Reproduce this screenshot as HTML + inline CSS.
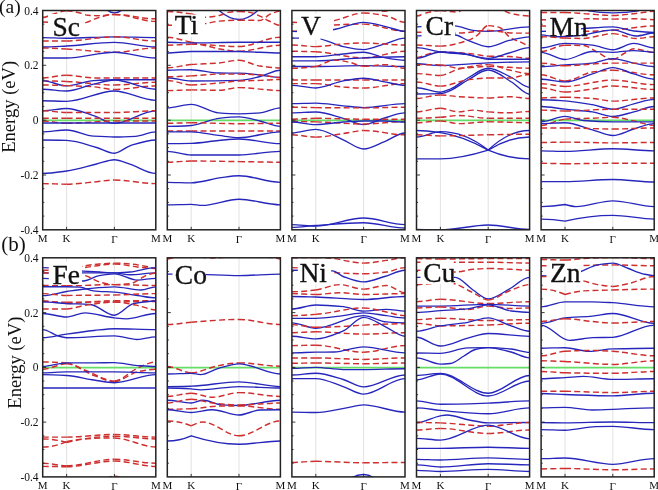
<!DOCTYPE html><html><head><meta charset="utf-8"><style>html,body{margin:0;padding:0;background:#fff;width:658px;height:490px;overflow:hidden}svg{display:block;will-change:transform;filter:blur(0.3px)}text{font-family:"Liberation Serif",serif;fill:#111}.b{stroke:#2626bc;stroke-width:1.35;fill:none}.r{stroke:#cf2e2e;stroke-width:1.45;fill:none;stroke-dasharray:6 3.3}</style></head><body>
<svg width="658" height="490" viewBox="0 0 658 490">
<defs>
<clipPath id="c00"><rect x="42.7" y="10.5" width="113.1" height="219.3"/></clipPath>
<clipPath id="c01"><rect x="167.3" y="10.5" width="113.1" height="219.3"/></clipPath>
<clipPath id="c02"><rect x="291.9" y="10.5" width="113.1" height="219.3"/></clipPath>
<clipPath id="c03"><rect x="416.5" y="10.5" width="113.1" height="219.3"/></clipPath>
<clipPath id="c04"><rect x="541.1" y="10.5" width="113.1" height="219.3"/></clipPath>
<clipPath id="c10"><rect x="42.7" y="257.8" width="113.1" height="219.1"/></clipPath>
<clipPath id="c11"><rect x="167.3" y="257.8" width="113.1" height="219.1"/></clipPath>
<clipPath id="c12"><rect x="291.9" y="257.8" width="113.1" height="219.1"/></clipPath>
<clipPath id="c13"><rect x="416.5" y="257.8" width="113.1" height="219.1"/></clipPath>
<clipPath id="c14"><rect x="541.1" y="257.8" width="113.1" height="219.1"/></clipPath>
</defs>
<path d="M66.6,10.5V229.8M114.4,10.5V229.8" stroke="#dadada" stroke-width="0.8" fill="none"/>
<g clip-path="url(#c00)"><path d="M42.7,120.4H155.8" stroke="#66dd66" stroke-width="1.8"/><path d="M99.2,2.0C104.3,9.1 109.4,12.8 114.4,12.8C119.5,12.8 124.7,9.3 129.8,2.0" class="b"/><path d="M42.7,17.5C46.5,17.5 50.2,14.9 54.0,13.9C58.2,12.7 62.4,10.8 66.6,10.8" class="r"/><path d="M66.6,10.8C71.1,10.8 75.5,12.0 80.0,13.0C82.7,13.6 85.3,15.1 87.9,15.3C91.0,15.5 94.0,15.7 97.0,15.7C102.8,15.7 108.6,14.5 114.4,14.5" class="r"/><path d="M114.4,14.5C128.2,14.5 142.0,18.8 155.8,18.8" class="r"/><path d="M42.7,22.0C50.7,22.0 58.6,23.5 66.6,23.5" class="r"/><path d="M66.6,23.5C73.0,23.5 79.3,23.2 85.7,22.6C88.7,22.3 91.7,19.8 94.7,18.9C101.3,16.9 107.8,14.5 114.4,14.5" class="r"/><path d="M114.4,14.5C128.2,14.5 142.0,21.4 155.8,21.4" class="r"/><path d="M42.7,37.6C50.7,37.6 58.6,38.2 66.6,38.2C82.5,38.2 98.5,36.8 114.4,36.8C128.2,36.8 142.0,37.6 155.8,37.6" class="b"/><path d="M42.7,41.0C50.7,41.0 58.6,41.0 66.6,41.0" class="r"/><path d="M66.6,41.0C82.5,41.0 98.5,36.8 114.4,36.8" class="r"/><path d="M114.4,36.8C128.2,36.8 142.0,41.0 155.8,41.0" class="r"/><path d="M42.7,47.0C50.7,47.0 58.6,46.4 66.6,46.0C82.5,45.2 98.5,42.3 114.4,42.3C128.2,42.3 142.0,47.0 155.8,47.0" class="b"/><path d="M42.7,48.0C50.7,48.0 58.6,48.6 66.6,49.0" class="r"/><path d="M66.6,49.0C82.5,49.8 98.5,52.2 114.4,52.2" class="r"/><path d="M114.4,52.2C128.2,52.2 142.0,48.0 155.8,48.0" class="r"/><path d="M42.7,58.0C50.7,58.0 58.6,58.0 66.6,58.0C82.5,58.0 98.5,52.2 114.4,52.2C128.2,52.2 142.0,58.0 155.8,58.0" class="b"/><path d="M42.7,77.9C50.7,77.9 58.6,75.2 66.6,75.2" class="r"/><path d="M66.6,75.2C75.6,75.2 84.6,77.9 93.6,77.9C100.5,77.9 107.5,77.9 114.4,77.9" class="r"/><path d="M114.4,77.9C128.2,77.9 142.0,77.9 155.8,77.9" class="r"/><path d="M42.7,80.9C50.7,80.9 58.6,81.2 66.6,81.5" class="r"/><path d="M66.6,81.5C82.5,82.1 98.5,85.0 114.4,85.0" class="r"/><path d="M114.4,85.0C128.2,85.0 142.0,82.3 155.8,82.3" class="r"/><path d="M42.7,80.6C50.7,80.6 58.6,85.9 66.6,85.9C75.6,85.9 84.6,81.2 93.6,80.6C100.5,80.1 107.5,79.7 114.4,79.7C128.2,79.7 142.0,79.7 155.8,79.7" class="b"/><path d="M42.7,85.0C50.7,85.0 58.6,85.3 66.6,85.6" class="r"/><path d="M66.6,85.6C75.6,85.9 84.6,86.2 93.6,86.8C100.5,87.3 107.5,89.5 114.4,89.5" class="r"/><path d="M114.4,89.5C128.2,89.5 142.0,85.9 155.8,85.9" class="r"/><path d="M42.7,89.2C50.7,89.2 58.6,91.0 66.6,91.0C75.6,91.0 84.6,86.1 93.6,84.1C100.5,82.6 107.5,80.0 114.4,80.0C128.2,80.0 142.0,89.2 155.8,89.2" class="b"/><path d="M42.7,100.7C50.7,100.7 58.6,101.3 66.6,101.3C82.5,101.3 98.5,91.0 114.4,91.0C128.2,91.0 142.0,100.4 155.8,100.4" class="b"/><path d="M42.7,110.8C50.7,110.8 58.6,108.5 66.6,108.5C75.6,108.5 84.6,112.8 93.6,115.6C100.5,117.7 107.5,123.3 114.4,123.3C128.2,123.3 142.0,110.8 155.8,110.8" class="b"/><path d="M42.7,110.8C50.7,110.8 58.6,112.5 66.6,112.5" class="r"/><path d="M66.6,112.5C82.5,112.5 98.5,112.5 114.4,112.5" class="r"/><path d="M114.4,112.5C128.2,112.5 142.0,110.8 155.8,110.8" class="r"/><path d="M42.7,118.3C50.7,118.3 58.6,118.3 66.6,118.3" class="r"/><path d="M66.6,118.3C82.5,118.3 98.5,118.3 114.4,118.3" class="r"/><path d="M114.4,118.3C128.2,118.3 142.0,118.3 155.8,118.3" class="r"/><path d="M42.7,121.0C50.7,121.0 58.6,123.3 66.6,123.3" class="r"/><path d="M66.6,123.3C82.5,123.3 98.5,121.0 114.4,121.0" class="r"/><path d="M114.4,121.0C128.2,121.0 142.0,121.0 155.8,121.0" class="r"/><path d="M42.7,123.0C50.7,123.0 58.6,123.0 66.6,123.0C82.5,123.0 98.5,123.0 114.4,123.0C128.2,123.0 142.0,123.0 155.8,123.0" class="b"/><path d="M42.7,131.8C50.7,131.8 58.6,130.0 66.6,130.0C75.6,130.0 84.6,135.6 93.6,136.2C100.5,136.6 107.5,137.0 114.4,137.0C121.4,137.0 128.4,136.7 135.4,136.3C142.2,135.9 149.0,131.8 155.8,131.8" class="b"/><path d="M42.7,140.0C50.7,140.0 58.6,140.2 66.6,140.4C76.6,140.7 86.6,144.7 96.6,147.5C102.6,149.1 108.5,153.2 114.4,153.2C119.8,153.2 125.1,147.3 130.5,145.6C138.9,143.0 147.4,140.0 155.8,140.0" class="b"/><path d="M42.7,173.4C50.7,173.4 58.6,172.1 66.6,171.0C76.6,169.6 86.6,166.4 96.6,164.0C102.6,162.6 108.5,159.7 114.4,159.7C119.8,159.7 125.1,162.7 130.5,164.4C138.9,167.1 147.4,173.4 155.8,173.4" class="b"/><path d="M42.7,183.6C50.7,183.6 58.6,184.2 66.6,184.2" class="r"/><path d="M66.6,184.2C76.6,184.2 86.6,182.6 96.6,181.7C102.6,181.2 108.5,180.0 114.4,180.0" class="r"/><path d="M114.4,180.0C128.2,180.0 142.0,183.6 155.8,183.6" class="r"/><rect x="48.0" y="14.0" width="37.0" height="22.5" fill="#fff"/></g>
<path d="M42.7,24.2h1.6M42.7,37.9h1.6M42.7,51.6h1.6M42.7,65.3h3.5M42.7,79.0h1.6M42.7,92.7h1.6M42.7,106.4h1.6M42.7,120.2h3.5M42.7,133.9h1.6M42.7,147.6h1.6M42.7,161.3h1.6M42.7,175.0h3.5M42.7,188.7h1.6M42.7,202.4h1.6M42.7,216.1h1.6M66.6,229.8v-3M114.4,229.8v-3" stroke="#222" stroke-width="0.9" fill="none"/>
<rect x="42.7" y="10.5" width="113.1" height="219.3" fill="none" stroke="#222" stroke-width="1.5"/>
<text x="42.7" y="242.3" font-size="11" text-anchor="middle">M</text>
<text x="66.6" y="242.3" font-size="11" text-anchor="middle">K</text>
<text x="114.4" y="243.3" font-size="11" text-anchor="middle">Γ</text>
<text x="155.8" y="242.3" font-size="11" text-anchor="middle">M</text>
<text x="52.4" y="35.9" font-size="27.5" stroke="#111" stroke-width="0.35">Sc</text>
<path d="M191.2,10.5V229.8M239.0,10.5V229.8" stroke="#dadada" stroke-width="0.8" fill="none"/>
<g clip-path="url(#c01)"><path d="M167.3,120.4H280.4" stroke="#66dd66" stroke-width="1.8"/><path d="M212.5,-5.0C214.7,1.2 216.8,8.7 219.0,10.5C225.7,16.2 232.3,19.5 239.0,19.5C245.3,19.5 251.5,16.0 257.8,10.5C260.0,8.5 262.3,1.3 264.6,-5.0" class="b"/><path d="M167.3,11.5C175.3,11.5 183.2,12.8 191.2,14.0" class="r"/><path d="M191.2,14.0C195.7,14.7 200.1,17.3 204.6,17.3C209.5,17.3 214.4,16.4 219.3,15.5C222.3,14.9 225.4,12.8 228.4,12.4C231.9,11.9 235.5,11.5 239.0,11.5" class="r"/><path d="M239.0,11.5C242.6,11.5 246.2,11.9 249.9,12.4C253.3,12.9 256.6,14.6 260.0,16.1C263.1,17.4 266.1,19.6 269.1,21.0C272.9,22.7 276.6,25.4 280.4,25.4" class="r"/><path d="M167.3,25.3C175.3,25.3 183.2,24.9 191.2,24.5" class="r"/><path d="M191.2,24.5C195.7,24.3 200.1,24.0 204.6,23.6C209.5,23.1 214.4,21.5 219.3,21.1C225.9,20.6 232.4,20.2 239.0,20.2" class="r"/><path d="M239.0,20.2C242.6,20.2 246.2,20.2 249.9,20.2C253.3,20.2 256.6,20.5 260.0,20.5C263.4,20.5 266.8,15.6 270.2,14.2C273.6,12.8 277.0,11.1 280.4,11.1" class="r"/><path d="M167.3,37.2C175.3,37.2 183.2,40.7 191.2,42.3" class="r"/><path d="M191.2,42.3C207.1,45.5 223.1,51.2 239.0,51.2" class="r"/><path d="M239.0,51.2C252.8,51.2 266.6,45.2 280.4,45.2" class="r"/><path d="M167.3,45.2C175.3,45.2 183.2,44.3 191.2,44.3" class="r"/><path d="M191.2,44.3C207.1,44.3 223.1,46.5 239.0,46.5" class="r"/><path d="M239.0,46.5C252.8,46.5 266.6,37.2 280.4,37.2" class="r"/><path d="M167.3,42.2C175.3,42.2 183.2,42.9 191.2,42.9C207.1,42.9 223.1,42.2 239.0,42.2C252.8,42.2 266.6,42.2 280.4,42.2" class="b"/><path d="M167.3,53.0C175.3,53.0 183.2,51.5 191.2,51.5C207.1,51.5 223.1,51.5 239.0,51.5C252.8,51.5 266.6,53.0 280.4,53.0" class="b"/><path d="M167.3,67.8C175.3,67.8 183.2,65.1 191.2,64.5" class="r"/><path d="M191.2,64.5C200.3,63.8 209.5,63.7 218.6,63.0C225.4,62.5 232.2,60.3 239.0,60.3" class="r"/><path d="M239.0,60.3C246.0,60.3 253.0,65.0 260.0,66.0C266.8,66.9 273.6,67.9 280.4,67.9" class="r"/><path d="M167.3,70.2C175.3,70.2 183.2,69.7 191.2,69.7C200.3,69.7 209.5,72.8 218.6,73.0C225.4,73.1 232.2,73.1 239.0,73.2C246.0,73.3 253.0,74.3 260.0,75.0C266.8,75.7 273.6,77.4 280.4,77.4" class="b"/><path d="M167.3,77.7C175.3,77.7 183.2,81.0 191.2,81.0C207.1,81.0 223.1,80.8 239.0,80.4C246.0,80.2 253.0,78.1 260.0,76.5C266.8,74.9 273.6,70.2 280.4,70.2" class="b"/><path d="M167.3,76.8C175.3,76.8 183.2,76.3 191.2,75.9" class="r"/><path d="M191.2,75.9C200.3,75.5 209.5,74.1 218.6,74.1C225.4,74.1 232.2,74.1 239.0,74.1" class="r"/><path d="M239.0,74.1C246.0,74.1 253.0,74.6 260.0,75.0C266.8,75.4 273.6,77.4 280.4,77.4" class="r"/><path d="M167.3,80.4C175.3,80.4 183.2,84.9 191.2,84.9" class="r"/><path d="M191.2,84.9C200.3,84.9 209.5,83.8 218.6,83.1C225.4,82.5 232.2,81.3 239.0,81.0" class="r"/><path d="M239.0,81.0C246.0,80.7 253.0,80.6 260.0,80.4C266.8,80.2 273.6,79.5 280.4,79.5" class="r"/><path d="M167.3,90.6C175.3,90.6 183.2,89.9 191.2,89.9" class="r"/><path d="M191.2,89.9C200.3,89.9 209.5,90.3 218.6,90.3C225.4,90.3 232.2,87.6 239.0,87.6" class="r"/><path d="M239.0,87.6C252.8,87.6 266.6,90.6 280.4,90.6" class="r"/><path d="M167.3,107.9C175.3,107.9 183.2,104.3 191.2,104.3C200.3,104.3 209.5,112.2 218.6,112.9C225.4,113.4 232.2,113.8 239.0,113.8C246.0,113.8 253.0,113.4 260.0,112.9C266.8,112.4 273.6,107.9 280.4,107.9" class="b"/><path d="M167.3,126.4C175.3,126.4 183.2,126.0 191.2,125.5C200.3,124.9 209.5,119.3 218.6,118.3C225.4,117.6 232.2,116.9 239.0,116.9C246.0,116.9 253.0,119.4 260.0,121.0C266.8,122.5 273.6,126.4 280.4,126.4" class="b"/><path d="M167.3,123.3C175.3,123.3 183.2,122.8 191.2,122.8" class="r"/><path d="M191.2,122.8C207.1,122.8 223.1,123.7 239.0,123.7" class="r"/><path d="M239.0,123.7C252.8,123.7 266.6,123.3 280.4,123.3" class="r"/><path d="M167.3,130.9C175.3,130.9 183.2,130.9 191.2,130.9" class="r"/><path d="M191.2,130.9C207.1,130.9 223.1,130.9 239.0,130.9" class="r"/><path d="M239.0,130.9C252.8,130.9 266.6,130.9 280.4,130.9" class="r"/><path d="M167.3,131.8C175.3,131.8 183.2,131.8 191.2,131.8C200.3,131.8 209.5,134.3 218.6,135.4C225.4,136.2 232.2,137.7 239.0,137.7C252.8,137.7 266.6,131.8 280.4,131.8" class="b"/><path d="M167.3,143.6C175.3,143.6 183.2,143.5 191.2,143.3C200.3,143.1 209.5,141.3 218.6,140.5C225.4,139.9 232.2,139.0 239.0,139.0C252.8,139.0 266.6,143.6 280.4,143.6" class="b"/><path d="M167.3,151.3C175.3,151.3 183.2,155.0 191.2,155.0C207.1,155.0 223.1,155.0 239.0,155.0C252.8,155.0 266.6,151.3 280.4,151.3" class="b"/><path d="M167.3,162.2C175.3,162.2 183.2,161.0 191.2,161.0" class="r"/><path d="M191.2,161.0C207.1,161.0 223.1,161.4 239.0,161.6" class="r"/><path d="M239.0,161.6C252.8,161.8 266.6,162.2 280.4,162.2" class="r"/><path d="M167.3,182.3C175.3,182.3 183.2,182.8 191.2,182.8C201.3,182.8 211.3,178.9 221.4,177.6C227.2,176.8 233.1,175.7 239.0,175.7C252.8,175.7 266.6,182.3 280.4,182.3" class="b"/><path d="M167.3,204.8C175.3,204.8 183.2,204.3 191.2,204.3C194.9,204.3 198.6,205.4 202.4,205.4C214.6,205.4 226.8,199.2 239.0,199.2C252.8,199.2 266.6,204.8 280.4,204.8" class="b"/><rect x="172.0" y="14.5" width="33.0" height="22.5" fill="#fff"/></g>
<path d="M167.3,24.2h1.6M167.3,37.9h1.6M167.3,51.6h1.6M167.3,65.3h3.5M167.3,79.0h1.6M167.3,92.7h1.6M167.3,106.4h1.6M167.3,120.2h3.5M167.3,133.9h1.6M167.3,147.6h1.6M167.3,161.3h1.6M167.3,175.0h3.5M167.3,188.7h1.6M167.3,202.4h1.6M167.3,216.1h1.6M191.2,229.8v-3M239.0,229.8v-3" stroke="#222" stroke-width="0.9" fill="none"/>
<rect x="167.3" y="10.5" width="113.1" height="219.3" fill="none" stroke="#222" stroke-width="1.5"/>
<text x="167.3" y="242.3" font-size="11" text-anchor="middle">M</text>
<text x="191.2" y="242.3" font-size="11" text-anchor="middle">K</text>
<text x="239.0" y="243.3" font-size="11" text-anchor="middle">Γ</text>
<text x="280.4" y="242.3" font-size="11" text-anchor="middle">M</text>
<text x="174.7" y="34.2" font-size="27.5" stroke="#111" stroke-width="0.35">Ti</text>
<path d="M315.8,10.5V229.8M363.6,10.5V229.8" stroke="#dadada" stroke-width="0.8" fill="none"/>
<g clip-path="url(#c02)"><path d="M291.9,120.4H405.0" stroke="#66dd66" stroke-width="1.8"/><path d="M365.4,3.0C371.8,9.3 378.2,11.2 384.6,11.2C389.5,11.2 394.4,7.8 399.3,3.0" class="r"/><path d="M291.9,22.3C299.9,22.3 307.8,24.0 315.8,24.0" class="r"/><path d="M315.8,24.0C321.9,24.0 328.1,21.9 334.2,20.6C344.0,18.5 353.8,13.0 363.6,13.0" class="r"/><path d="M363.6,13.0C371.2,13.0 378.8,14.5 386.5,16.0C392.6,17.2 398.8,22.3 405.0,22.3" class="r"/><path d="M291.9,31.3C299.9,31.3 307.8,30.1 315.8,29.0" class="r"/><path d="M315.8,29.0C321.9,28.2 328.1,25.3 334.2,25.0C344.0,24.4 353.8,24.1 363.6,24.1" class="r"/><path d="M363.6,24.1C377.4,24.1 391.2,31.3 405.0,31.3" class="r"/><path d="M291.9,31.3C299.9,31.3 307.8,32.0 315.8,32.0C321.9,32.0 328.1,30.5 334.2,29.5C344.0,27.8 353.8,22.3 363.6,22.3C371.2,22.3 378.8,25.1 386.5,26.8C392.6,28.1 398.8,31.3 405.0,31.3" class="b"/><path d="M291.9,38.1C299.9,38.1 307.8,38.2 315.8,38.3C324.9,38.4 334.1,44.8 343.2,46.6C350.0,47.9 356.8,49.6 363.6,49.6C370.6,49.6 377.6,45.8 384.6,43.9C391.4,42.0 398.2,38.1 405.0,38.1" class="b"/><path d="M291.9,45.0C299.9,45.0 307.8,46.6 315.8,46.6" class="r"/><path d="M315.8,46.6C324.9,46.6 334.1,44.4 343.2,43.9C350.0,43.5 356.8,43.0 363.6,43.0" class="r"/><path d="M363.6,43.0C377.4,43.0 391.2,45.0 405.0,45.0" class="r"/><path d="M291.9,51.3C299.9,51.3 307.8,51.5 315.8,51.8" class="r"/><path d="M315.8,51.8C331.7,52.3 347.7,57.9 363.6,57.9" class="r"/><path d="M363.6,57.9C377.4,57.9 391.2,51.3 405.0,51.3" class="r"/><path d="M291.9,56.7C299.9,56.7 307.8,56.7 315.8,56.7C324.9,56.7 334.1,54.8 343.2,54.0C350.0,53.4 356.8,52.2 363.6,52.2C370.6,52.2 377.6,56.4 384.6,57.6C391.4,58.8 398.2,60.2 405.0,60.2" class="b"/><path d="M291.9,60.8C299.9,60.8 307.8,60.8 315.8,60.8C331.7,60.8 347.7,58.5 363.6,57.9C377.4,57.4 391.2,56.7 405.0,56.7" class="b"/><path d="M291.9,66.5C299.9,66.5 307.8,66.5 315.8,66.5C331.7,66.5 347.7,65.6 363.6,65.6C377.4,65.6 391.2,66.5 405.0,66.5" class="b"/><path d="M291.9,68.3C299.9,68.3 307.8,67.5 315.8,66.5" class="r"/><path d="M315.8,66.5C321.9,65.7 328.1,60.0 334.2,60.0C338.9,60.0 343.7,61.1 348.4,62.0C353.5,62.9 358.6,66.2 363.6,66.2" class="r"/><path d="M363.6,66.2C371.2,66.2 378.8,64.7 386.5,64.7C392.6,64.7 398.8,68.3 405.0,68.3" class="r"/><path d="M291.9,80.0C299.9,80.0 307.8,80.0 315.8,80.0" class="r"/><path d="M315.8,80.0C331.7,80.0 347.7,80.0 363.6,80.0" class="r"/><path d="M363.6,80.0C377.4,80.0 391.2,80.0 405.0,80.0" class="r"/><path d="M291.9,83.6C299.9,83.6 307.8,83.6 315.8,83.6" class="r"/><path d="M315.8,83.6C324.9,83.6 334.1,86.5 343.2,87.1C350.0,87.5 356.8,88.0 363.6,88.0" class="r"/><path d="M363.6,88.0C377.4,88.0 391.2,83.6 405.0,83.6" class="r"/><path d="M291.9,85.4C299.9,85.4 307.8,88.0 315.8,88.0C324.9,88.0 334.1,82.5 343.2,80.9C350.0,79.7 356.8,78.2 363.6,78.2C370.6,78.2 377.6,80.6 384.6,81.8C391.4,83.0 398.2,85.4 405.0,85.4" class="b"/><path d="M291.9,103.6C299.9,103.6 307.8,103.1 315.8,103.1C324.9,103.1 334.1,105.0 343.2,105.8C350.0,106.4 356.8,107.6 363.6,107.6C377.4,107.6 391.2,103.6 405.0,103.6" class="b"/><path d="M291.9,107.2C299.9,107.2 307.8,107.5 315.8,107.6" class="r"/><path d="M315.8,107.6C331.7,107.8 347.7,107.9 363.6,107.9" class="r"/><path d="M363.6,107.9C377.4,107.9 391.2,107.2 405.0,107.2" class="r"/><path d="M291.9,112.9C299.9,112.9 307.8,112.0 315.8,112.0C324.9,112.0 334.1,115.9 343.2,118.3C350.0,120.1 356.8,124.6 363.6,124.6C370.6,124.6 377.6,120.0 384.6,118.0C391.4,116.1 398.2,112.9 405.0,112.9" class="b"/><path d="M291.9,119.2C299.9,119.2 307.8,118.3 315.8,118.3" class="r"/><path d="M315.8,118.3C331.7,118.3 347.7,119.2 363.6,119.2" class="r"/><path d="M363.6,119.2C377.4,119.2 391.2,119.2 405.0,119.2" class="r"/><path d="M291.9,121.5C299.9,121.5 307.8,121.7 315.8,121.9" class="r"/><path d="M315.8,121.9C331.7,122.3 347.7,124.0 363.6,124.0" class="r"/><path d="M363.6,124.0C377.4,124.0 391.2,121.5 405.0,121.5" class="r"/><path d="M291.9,122.0C299.9,122.0 307.8,124.6 315.8,124.6C324.9,124.6 334.1,122.6 343.2,122.0C350.0,121.6 356.8,121.0 363.6,121.0C370.6,121.0 377.6,121.0 384.6,121.0C391.4,121.0 398.2,122.0 405.0,122.0" class="b"/><path d="M291.9,133.0C299.9,133.0 307.8,129.4 315.8,129.4C324.9,129.4 334.1,136.0 343.2,139.8C350.0,142.6 356.8,149.0 363.6,149.0C370.6,149.0 377.6,144.3 384.6,141.6C391.4,139.0 398.2,133.0 405.0,133.0" class="b"/><path d="M291.9,134.8C299.9,134.8 307.8,137.1 315.8,137.1" class="r"/><path d="M315.8,137.1C324.9,137.1 334.1,134.9 343.2,133.6C350.0,132.7 356.8,130.5 363.6,130.5" class="r"/><path d="M363.6,130.5C377.4,130.5 391.2,134.8 405.0,134.8" class="r"/><path d="M291.9,224.6C299.9,224.6 307.8,226.1 315.8,226.1C331.7,226.1 347.7,218.0 363.6,218.0C377.4,218.0 391.2,224.6 405.0,224.6" class="b"/><path d="M291.9,227.4C299.9,227.4 307.8,226.0 315.8,225.5C331.7,224.4 347.7,222.7 363.6,222.7C377.4,222.7 391.2,228.0 405.0,228.0" class="b"/><rect x="297.0" y="14.0" width="36.0" height="22.5" fill="#fff"/><rect x="299.0" y="36.0" width="21.5" height="4.0" fill="#fff"/></g>
<path d="M291.9,24.2h1.6M291.9,37.9h1.6M291.9,51.6h1.6M291.9,65.3h3.5M291.9,79.0h1.6M291.9,92.7h1.6M291.9,106.4h1.6M291.9,120.2h3.5M291.9,133.9h1.6M291.9,147.6h1.6M291.9,161.3h1.6M291.9,175.0h3.5M291.9,188.7h1.6M291.9,202.4h1.6M291.9,216.1h1.6M315.8,229.8v-3M363.6,229.8v-3" stroke="#222" stroke-width="0.9" fill="none"/>
<rect x="291.9" y="10.5" width="113.1" height="219.3" fill="none" stroke="#222" stroke-width="1.5"/>
<text x="291.9" y="242.3" font-size="11" text-anchor="middle">M</text>
<text x="315.8" y="242.3" font-size="11" text-anchor="middle">K</text>
<text x="363.6" y="243.3" font-size="11" text-anchor="middle">Γ</text>
<text x="405.0" y="242.3" font-size="11" text-anchor="middle">M</text>
<text x="300.9" y="34.7" font-size="27.5" stroke="#111" stroke-width="0.35">V</text>
<path d="M440.4,10.5V229.8M488.2,10.5V229.8" stroke="#dadada" stroke-width="0.8" fill="none"/>
<g clip-path="url(#c03)"><path d="M416.5,120.4H529.6" stroke="#66dd66" stroke-width="1.8"/><path d="M416.5,16.0C420.3,16.0 424.0,13.3 427.8,12.5C432.0,11.6 436.2,10.6 440.4,10.6" class="r"/><path d="M440.4,10.6C445.6,10.6 450.9,12.0 456.1,12.0C459.9,12.0 463.6,9.0 467.4,6.0" class="r"/><path d="M497.9,5.0C499.9,7.3 501.9,9.7 503.8,10.7C507.4,12.6 511.1,13.7 514.7,14.3C519.6,15.2 524.6,16.0 529.6,16.0" class="r"/><path d="M416.5,26.8C424.5,26.8 432.4,25.5 440.4,25.5C445.3,25.5 450.3,25.7 455.2,25.9C461.1,26.2 467.1,29.8 473.0,30.4C478.1,30.9 483.2,31.3 488.2,31.3C502.0,31.3 515.8,26.8 529.6,26.8" class="b"/><path d="M416.5,45.0C424.5,45.0 432.4,46.1 440.4,46.1" class="r"/><path d="M440.4,46.1C449.5,46.1 458.7,43.3 467.8,40.4C470.7,39.5 473.6,37.8 476.4,35.9C480.4,33.4 484.3,25.6 488.2,25.6" class="r"/><path d="M488.2,25.6C492.2,25.6 496.2,26.5 500.2,27.7C503.2,28.6 506.2,34.8 509.2,36.8C513.0,39.3 516.8,40.6 520.6,42.2C523.6,43.4 526.6,45.5 529.6,45.5" class="r"/><path d="M416.5,32.2C424.5,32.2 432.4,33.1 440.4,33.1" class="r"/><path d="M440.4,33.1C446.5,33.1 452.7,33.1 458.8,33.1C468.6,33.1 478.4,30.4 488.2,30.4" class="r"/><path d="M488.2,30.4C497.0,30.4 505.8,33.1 514.7,33.1C519.6,33.1 524.6,33.1 529.6,33.1" class="r"/><path d="M416.5,35.8C424.5,35.8 432.4,35.0 440.4,35.0C445.3,35.0 450.3,35.0 455.2,35.0C459.4,35.0 463.6,38.9 467.8,40.4C474.6,42.9 481.4,46.7 488.2,46.7C495.2,46.7 502.2,42.0 509.2,40.4C516.0,38.9 522.8,36.8 529.6,36.8" class="b"/><path d="M416.5,57.4C421.6,57.4 426.7,53.8 431.8,53.0C434.6,52.5 437.5,52.0 440.4,52.0" class="r"/><path d="M440.4,52.0C451.3,52.0 462.2,53.0 473.0,54.0C478.1,54.5 483.2,56.1 488.2,56.2" class="r"/><path d="M488.2,56.2C495.2,56.4 502.2,56.3 509.2,56.5C516.0,56.7 522.8,58.3 529.6,58.3" class="r"/><path d="M416.5,47.6C424.5,47.6 432.4,51.0 440.4,52.0C449.5,53.2 458.7,53.4 467.8,54.7C474.6,55.6 481.4,59.2 488.2,59.2C502.0,59.2 515.8,59.2 529.6,59.2" class="b"/><path d="M416.5,58.3C424.5,58.3 432.4,52.0 440.4,52.0C446.5,52.0 452.7,52.5 458.8,53.0C468.6,53.8 478.4,58.3 488.2,58.3C495.2,58.3 502.2,54.8 509.2,53.0C516.0,51.2 522.8,47.6 529.6,47.6" class="b"/><path d="M416.5,63.7C424.5,63.7 432.4,65.5 440.4,65.5C456.3,65.5 472.3,63.3 488.2,62.8C502.0,62.4 515.8,61.9 529.6,61.9" class="b"/><path d="M416.5,64.6C424.5,64.6 432.4,64.7 440.4,65.0" class="r"/><path d="M440.4,65.0C446.5,65.2 452.7,68.2 458.8,68.2C468.6,68.2 478.4,66.4 488.2,66.4" class="r"/><path d="M488.2,66.4C502.0,66.4 515.8,68.2 529.6,68.2" class="r"/><path d="M416.5,73.6C424.5,73.6 432.4,75.4 440.4,75.4" class="r"/><path d="M440.4,75.4C446.5,75.4 452.7,70.3 458.8,69.0C468.6,66.9 478.4,64.6 488.2,64.6" class="r"/><path d="M488.2,64.6C495.2,64.6 502.2,68.5 509.2,70.0C516.0,71.4 522.8,73.6 529.6,73.6" class="r"/><path d="M416.5,87.7C424.5,87.7 432.4,92.2 440.4,92.2C443.7,92.2 447.1,90.4 450.4,89.0C456.2,86.6 462.0,81.2 467.8,78.0C474.6,74.3 481.4,68.2 488.2,68.2C496.0,68.2 503.7,73.9 511.5,77.5C517.5,80.3 523.6,87.3 529.6,87.3" class="b"/><path d="M416.5,94.0C424.5,94.0 432.4,93.9 440.4,93.6C443.7,93.5 447.1,91.8 450.4,90.5C456.2,88.2 462.0,83.2 467.8,80.0C474.6,76.3 481.4,70.0 488.2,70.0C496.0,70.0 503.7,77.4 511.5,82.0C517.5,85.5 523.6,94.2 529.6,94.2" class="b"/><path d="M416.5,82.0C424.5,82.0 432.4,86.1 440.4,86.1" class="r"/><path d="M440.4,86.1C449.5,86.1 458.7,80.9 467.8,79.8C474.6,79.0 481.4,78.0 488.2,78.0" class="r"/><path d="M488.2,78.0C495.2,78.0 502.2,78.0 509.2,78.0C516.0,78.0 522.8,74.5 529.6,74.5" class="r"/><path d="M416.5,98.4C424.5,98.4 432.4,94.9 440.4,94.9" class="r"/><path d="M440.4,94.9C446.5,94.9 452.7,96.3 458.8,96.7C468.6,97.3 478.4,97.9 488.2,97.9" class="r"/><path d="M488.2,97.9C495.2,97.9 502.2,96.7 509.2,96.7C516.0,96.7 522.8,98.4 529.6,98.4" class="r"/><path d="M416.5,111.9C424.5,111.9 432.4,108.3 440.4,108.3" class="r"/><path d="M440.4,108.3C446.5,108.3 452.7,111.9 458.8,111.9C463.5,111.9 468.3,110.1 473.0,110.1C478.1,110.1 483.2,111.6 488.2,111.9" class="r"/><path d="M488.2,111.9C495.2,112.4 502.2,112.8 509.2,112.8C516.0,112.8 522.8,111.5 529.6,111.5" class="r"/><path d="M416.5,118.2C424.5,118.2 432.4,117.7 440.4,117.3" class="r"/><path d="M440.4,117.3C446.5,117.0 452.7,115.5 458.8,115.5C468.6,115.5 478.4,118.2 488.2,118.2" class="r"/><path d="M488.2,118.2C502.0,118.2 515.8,118.2 529.6,118.2" class="r"/><path d="M416.5,122.7C424.5,122.7 432.4,120.9 440.4,120.9" class="r"/><path d="M440.4,120.9C446.5,120.9 452.7,123.6 458.8,123.6C468.6,123.6 478.4,121.8 488.2,121.8" class="r"/><path d="M488.2,121.8C502.0,121.8 515.8,122.7 529.6,122.7" class="r"/><path d="M416.5,130.5C424.5,130.5 432.4,131.5 440.4,132.6C456.3,134.7 472.3,141.3 488.2,150.1C502.0,141.4 515.8,137.0 529.6,137.0" class="b"/><path d="M416.5,137.0C424.5,137.0 432.4,131.6 440.4,131.6C456.3,131.6 472.3,137.4 488.2,150.1C502.0,137.0 515.8,130.5 529.6,130.5" class="b"/><path d="M416.5,158.9C424.5,158.9 432.4,158.9 440.4,158.9C456.3,158.9 472.3,155.0 488.2,150.1C502.0,156.0 515.8,158.9 529.6,158.9" class="b"/><path d="M416.5,134.8C424.5,134.8 432.4,135.9 440.4,135.9" class="r"/><path d="M440.4,135.9C456.3,135.9 472.3,135.1 488.2,134.8" class="r"/><path d="M488.2,134.8C502.0,134.6 515.8,134.2 529.6,134.2" class="r"/><path d="M416.5,229.5C424.5,229.5 432.4,230.0 440.4,230.0C456.3,230.0 472.3,225.0 488.2,225.0C502.0,225.0 515.8,229.5 529.6,229.5" class="b"/><rect x="421.5" y="14.0" width="33.5" height="23.0" fill="#fff"/></g>
<path d="M416.5,24.2h1.6M416.5,37.9h1.6M416.5,51.6h1.6M416.5,65.3h3.5M416.5,79.0h1.6M416.5,92.7h1.6M416.5,106.4h1.6M416.5,120.2h3.5M416.5,133.9h1.6M416.5,147.6h1.6M416.5,161.3h1.6M416.5,175.0h3.5M416.5,188.7h1.6M416.5,202.4h1.6M416.5,216.1h1.6M440.4,229.8v-3M488.2,229.8v-3" stroke="#222" stroke-width="0.9" fill="none"/>
<rect x="416.5" y="10.5" width="113.1" height="219.3" fill="none" stroke="#222" stroke-width="1.5"/>
<text x="416.5" y="242.3" font-size="11" text-anchor="middle">M</text>
<text x="440.4" y="242.3" font-size="11" text-anchor="middle">K</text>
<text x="488.2" y="243.3" font-size="11" text-anchor="middle">Γ</text>
<text x="529.6" y="242.3" font-size="11" text-anchor="middle">M</text>
<text x="425.6" y="35.0" font-size="27.5" stroke="#111" stroke-width="0.35">Cr</text>
<path d="M565.0,10.5V229.8M612.8,10.5V229.8" stroke="#dadada" stroke-width="0.8" fill="none"/>
<g clip-path="url(#c04)"><path d="M541.1,120.4H654.2" stroke="#66dd66" stroke-width="1.8"/><path d="M581.8,3.0C584.1,6.1 586.3,10.4 588.6,10.8C596.7,12.3 604.7,12.8 612.8,12.8C621.3,12.8 629.8,12.3 638.4,10.8C640.6,10.4 642.9,6.1 645.2,3.0" class="b"/><path d="M541.1,12.5C549.1,12.5 557.0,12.5 565.0,12.5" class="r"/><path d="M565.0,12.5C572.9,12.5 580.9,13.5 588.8,14.0C596.8,14.5 604.8,15.5 612.8,15.5" class="r"/><path d="M612.8,15.5C620.4,15.5 628.0,14.3 635.7,13.5C641.8,12.9 648.0,11.3 654.2,11.3" class="r"/><path d="M541.1,19.7C549.1,19.7 557.0,19.6 565.0,19.5" class="r"/><path d="M565.0,19.5C572.9,19.4 580.9,18.8 588.8,18.8C596.8,18.8 604.8,19.1 612.8,19.1" class="r"/><path d="M612.8,19.1C620.4,19.1 628.0,18.8 635.7,18.8C641.8,18.8 648.0,19.7 654.2,19.7" class="r"/><path d="M541.1,25.9C549.1,25.9 557.0,27.0 565.0,28.0" class="r"/><path d="M565.0,28.0C571.1,28.7 577.3,31.3 583.4,31.3C593.2,31.3 603.0,30.9 612.8,30.4" class="r"/><path d="M612.8,30.4C619.1,30.1 625.3,28.7 631.6,28.0C639.1,27.2 646.7,25.9 654.2,25.9" class="r"/><path d="M541.1,31.3C549.1,31.3 557.0,30.5 565.0,30.0C571.1,29.6 577.3,29.0 583.4,28.6C593.2,27.9 603.0,26.8 612.8,26.8C619.8,26.8 626.8,30.3 633.8,31.0C640.6,31.7 647.4,32.3 654.2,32.3" class="b"/><path d="M541.1,34.9C546.2,34.9 551.3,36.7 556.4,36.7C559.2,36.7 562.1,36.6 565.0,36.5C571.1,36.3 577.3,35.7 583.4,35.0C588.1,34.4 592.9,32.8 597.6,32.0C602.7,31.1 607.8,29.8 612.8,29.8C620.6,29.8 628.3,36.0 636.1,36.0C642.1,36.0 648.2,33.0 654.2,33.0" class="b"/><path d="M541.1,36.7C549.1,36.7 557.0,37.7 565.0,38.0" class="r"/><path d="M565.0,38.0C571.1,38.2 577.3,38.5 583.4,38.5C588.1,38.5 592.9,36.8 597.6,36.0C602.7,35.2 607.8,33.6 612.8,33.6" class="r"/><path d="M612.8,33.6C620.6,33.6 628.3,38.5 636.1,38.5C642.1,38.5 648.2,36.7 654.2,36.7" class="r"/><path d="M541.1,47.9C549.1,47.9 557.0,43.4 565.0,43.4C574.1,43.4 583.3,44.2 592.4,45.2C599.2,45.9 606.0,49.7 612.8,49.7C619.8,49.7 626.8,43.4 633.8,43.4C640.6,43.4 647.4,47.9 654.2,47.9" class="b"/><path d="M541.1,51.5C549.1,51.5 557.0,45.2 565.0,45.2" class="r"/><path d="M565.0,45.2C571.1,45.2 577.3,45.3 583.4,45.5C588.1,45.7 592.9,50.0 597.6,52.3C602.7,54.7 607.8,59.5 612.8,59.5" class="r"/><path d="M612.8,59.5C616.8,59.5 620.8,55.0 624.8,53.0C627.8,51.5 630.8,48.8 633.8,48.8C640.6,48.8 647.4,52.3 654.2,52.3" class="r"/><path d="M541.1,52.3C549.1,52.3 557.0,59.5 565.0,59.5C574.1,59.5 583.3,51.5 592.4,51.5C599.2,51.5 606.0,52.3 612.8,52.3C619.8,52.3 626.8,50.6 633.8,50.6C640.6,50.6 647.4,52.3 654.2,52.3" class="b"/><path d="M541.1,66.7C549.1,66.7 557.0,65.5 565.0,64.9C574.1,64.3 583.3,64.1 592.4,63.1C599.2,62.4 606.0,58.6 612.8,58.6C619.8,58.6 626.8,61.7 633.8,63.1C640.6,64.4 647.4,66.7 654.2,66.7" class="b"/><path d="M541.1,63.1C549.1,63.1 557.0,65.8 565.0,65.8" class="r"/><path d="M565.0,65.8C574.1,65.8 583.3,64.5 592.4,64.0C599.2,63.6 606.0,63.1 612.8,63.1" class="r"/><path d="M612.8,63.1C626.6,63.1 640.4,63.1 654.2,63.1" class="r"/><path d="M541.1,74.8C549.1,74.8 557.0,81.0 565.0,81.0" class="r"/><path d="M565.0,81.0C574.1,81.0 583.3,73.2 592.4,72.0C599.2,71.1 606.0,70.3 612.8,70.3" class="r"/><path d="M612.8,70.3C626.6,70.3 640.4,74.8 654.2,74.8" class="r"/><path d="M541.1,79.2C549.1,79.2 557.0,81.9 565.0,81.9C574.1,81.9 583.3,76.7 592.4,73.9C599.2,71.9 606.0,67.6 612.8,67.6C619.8,67.6 626.8,71.9 633.8,73.9C640.6,75.8 647.4,79.2 654.2,79.2" class="b"/><path d="M541.1,83.7C549.1,83.7 557.0,86.4 565.0,86.4" class="r"/><path d="M565.0,86.4C580.9,86.4 596.9,80.1 612.8,80.1" class="r"/><path d="M612.8,80.1C626.6,80.1 640.4,84.6 654.2,84.6" class="r"/><path d="M541.1,87.8C549.1,87.8 557.0,92.0 565.0,92.0" class="r"/><path d="M565.0,92.0C572.9,92.0 580.9,90.5 588.8,89.5C596.8,88.5 604.8,86.0 612.8,86.0" class="r"/><path d="M612.8,86.0C626.6,86.0 640.4,89.5 654.2,89.5" class="r"/><path d="M541.1,97.9C549.1,97.9 557.0,97.2 565.0,97.2" class="r"/><path d="M565.0,97.2C574.1,97.2 583.3,97.9 592.4,98.5C599.2,99.0 606.0,101.1 612.8,101.1" class="r"/><path d="M612.8,101.1C626.6,101.1 640.4,97.9 654.2,97.9" class="r"/><path d="M541.1,99.7C549.1,99.7 557.0,100.3 565.0,100.8C574.1,101.4 583.3,103.1 592.4,104.7C599.2,105.9 606.0,109.2 612.8,109.2C619.8,109.2 626.8,105.5 633.8,103.8C640.6,102.2 647.4,99.3 654.2,99.3" class="b"/><path d="M541.1,106.5C549.1,106.5 557.0,108.4 565.0,109.2C574.1,110.2 583.3,110.6 592.4,111.9C599.2,112.8 606.0,116.4 612.8,116.4C619.8,116.4 626.8,113.6 633.8,111.9C640.6,110.3 647.4,106.5 654.2,106.5" class="b"/><path d="M541.1,110.1C549.1,110.1 557.0,111.0 565.0,111.0" class="r"/><path d="M565.0,111.0C580.9,111.0 596.9,109.2 612.8,109.2" class="r"/><path d="M612.8,109.2C626.6,109.2 640.4,109.2 654.2,109.2" class="r"/><path d="M541.1,125.4C549.1,125.4 557.0,119.6 565.0,119.1" class="r"/><path d="M565.0,119.1C574.1,118.6 583.3,118.5 592.4,118.2C599.2,117.9 606.0,117.3 612.8,117.3" class="r"/><path d="M612.8,117.3C619.8,117.3 626.8,119.5 633.8,120.9C640.6,122.2 647.4,125.4 654.2,125.4" class="r"/><path d="M541.1,121.8C549.1,121.8 557.0,116.4 565.0,116.4C571.1,116.4 577.3,120.0 583.4,120.5C593.2,121.3 603.0,121.8 612.8,121.8C626.6,121.8 640.4,121.8 654.2,121.8" class="b"/><path d="M541.1,123.6C549.1,123.6 557.0,122.7 565.0,122.7C574.1,122.7 583.3,127.3 592.4,129.8C599.2,131.6 606.0,135.5 612.8,135.5C619.8,135.5 626.8,131.0 633.8,129.0C640.6,127.1 647.4,123.6 654.2,123.6" class="b"/><path d="M541.1,128.0C549.1,128.0 557.0,128.0 565.0,128.0" class="r"/><path d="M565.0,128.0C580.9,128.0 596.9,129.0 612.8,129.0" class="r"/><path d="M612.8,129.0C626.6,129.0 640.4,128.0 654.2,128.0" class="r"/><path d="M541.1,142.5C549.1,142.5 557.0,142.1 565.0,142.1" class="r"/><path d="M565.0,142.1C580.9,142.1 596.9,142.9 612.8,142.9" class="r"/><path d="M612.8,142.9C626.6,142.9 640.4,142.5 654.2,142.5" class="r"/><path d="M541.1,150.8C549.1,150.8 557.0,151.4 565.0,151.4C580.9,151.4 596.9,148.7 612.8,148.7C626.6,148.7 640.4,150.8 654.2,150.8" class="b"/><path d="M541.1,163.3C549.1,163.3 557.0,163.7 565.0,163.7" class="r"/><path d="M565.0,163.7C580.9,163.7 596.9,163.3 612.8,163.3" class="r"/><path d="M612.8,163.3C626.6,163.3 640.4,163.3 654.2,163.3" class="r"/><path d="M541.1,181.6C549.1,181.6 557.0,181.6 565.0,181.6C580.9,181.6 596.9,179.5 612.8,179.5C626.6,179.5 640.4,182.0 654.2,182.0" class="b"/><path d="M541.1,206.6C549.1,206.6 557.0,205.9 565.0,204.5C568.7,205.5 572.4,206.6 576.2,206.6C588.4,206.6 600.6,200.8 612.8,200.8C626.6,200.8 640.4,206.6 654.2,206.6" class="b"/><path d="M541.1,219.1C549.1,219.1 557.0,219.8 565.0,221.2C580.9,217.4 596.9,215.3 612.8,215.3C626.6,215.3 640.4,219.1 654.2,219.1" class="b"/><rect x="546.0" y="15.0" width="35.0" height="20.0" fill="#fff"/></g>
<path d="M541.1,24.2h1.6M541.1,37.9h1.6M541.1,51.6h1.6M541.1,65.3h3.5M541.1,79.0h1.6M541.1,92.7h1.6M541.1,106.4h1.6M541.1,120.2h3.5M541.1,133.9h1.6M541.1,147.6h1.6M541.1,161.3h1.6M541.1,175.0h3.5M541.1,188.7h1.6M541.1,202.4h1.6M541.1,216.1h1.6M565.0,229.8v-3M612.8,229.8v-3" stroke="#222" stroke-width="0.9" fill="none"/>
<rect x="541.1" y="10.5" width="113.1" height="219.3" fill="none" stroke="#222" stroke-width="1.5"/>
<text x="541.1" y="242.3" font-size="11" text-anchor="middle">M</text>
<text x="565.0" y="242.3" font-size="11" text-anchor="middle">K</text>
<text x="612.8" y="243.3" font-size="11" text-anchor="middle">Γ</text>
<text x="654.2" y="242.3" font-size="11" text-anchor="middle">M</text>
<text x="549.5" y="35.7" font-size="27.5" stroke="#111" stroke-width="0.35">Mn</text>
<text x="38.6" y="14.5" font-size="11.5" text-anchor="end">0.4</text>
<text x="38.6" y="69.3" font-size="11.5" text-anchor="end">0.2</text>
<text x="38.6" y="124.2" font-size="11.5" text-anchor="end">0</text>
<text x="38.6" y="179.0" font-size="11.5" text-anchor="end">-0.2</text>
<text x="38.6" y="233.8" font-size="11.5" text-anchor="end">-0.4</text>
<path d="M66.6,257.8V476.9M114.4,257.8V476.9" stroke="#dadada" stroke-width="0.8" fill="none"/>
<g clip-path="url(#c10)"><path d="M42.7,367.6H155.8" stroke="#66dd66" stroke-width="1.8"/><path d="M76.6,268.0C79.4,267.1 82.2,266.3 85.0,265.8C89.7,265.0 94.5,264.4 99.2,264.0C104.3,263.6 109.4,263.1 114.4,263.1" class="r"/><path d="M114.4,263.1C119.6,263.1 124.8,263.6 130.0,264.0C136.0,264.5 141.9,265.6 147.9,266.7C150.5,267.2 153.2,268.5 155.8,268.5" class="r"/><path d="M42.7,270.2C50.7,270.2 58.6,270.1 66.6,270.0" class="r"/><path d="M66.6,270.0C72.7,269.9 78.9,268.3 85.0,267.5C94.8,266.2 104.6,264.0 114.4,264.0" class="r"/><path d="M114.4,264.0C122.0,264.0 129.6,266.2 137.3,267.0C143.4,267.6 149.6,268.5 155.8,268.5" class="r"/><path d="M42.7,267.6C50.7,267.6 58.6,269.4 66.6,270.0C72.2,270.4 77.8,270.8 83.4,271.1C88.7,271.4 94.0,271.7 99.2,272.0C104.3,272.3 109.4,272.9 114.4,272.9C119.6,272.9 124.8,272.4 130.0,272.0C138.6,271.3 147.2,267.6 155.8,267.6" class="b"/><path d="M42.7,272.9C50.7,272.9 58.6,273.0 66.6,273.0C72.2,273.0 77.8,272.9 83.4,272.9C93.7,272.9 104.1,272.9 114.4,272.9C119.6,272.9 124.8,274.7 130.0,274.7C138.6,274.7 147.2,272.9 155.8,272.9" class="b"/><path d="M42.7,278.3C50.7,278.3 58.6,279.5 66.6,280.0C72.2,280.4 77.8,281.0 83.4,281.0C88.7,281.0 94.0,276.5 99.2,275.6C104.3,274.7 109.4,273.8 114.4,273.8C122.0,273.8 129.6,280.1 137.3,280.1C143.4,280.1 149.6,278.3 155.8,278.3" class="b"/><path d="M42.7,272.9C50.7,272.9 58.6,273.5 66.6,274.0" class="r"/><path d="M66.6,274.0C72.7,274.4 78.9,274.7 85.0,275.6C89.7,276.3 94.5,280.7 99.2,281.9C104.3,283.2 109.4,284.6 114.4,284.6" class="r"/><path d="M114.4,284.6C119.6,284.6 124.8,284.2 130.0,283.7C136.0,283.1 141.9,276.5 147.9,274.7C150.5,273.9 153.2,272.9 155.8,272.9" class="r"/><path d="M42.7,295.6C50.7,295.6 58.6,292.7 66.6,291.5C73.0,290.6 79.3,289.6 85.7,289.0C95.3,288.1 104.8,286.9 114.4,286.9C123.3,286.9 132.2,290.0 141.1,290.0C146.0,290.0 150.9,286.9 155.8,286.9" class="b"/><path d="M42.7,285.5C50.7,285.5 58.6,285.8 66.6,285.8" class="r"/><path d="M66.6,285.8C82.5,285.8 98.5,284.6 114.4,284.6" class="r"/><path d="M114.4,284.6C128.2,284.6 142.0,285.5 155.8,285.5" class="r"/><path d="M42.7,286.7C50.7,286.7 58.6,286.7 66.6,286.7C71.1,286.7 75.5,286.9 80.0,287.2C84.5,287.5 89.1,290.3 93.6,290.8C100.5,291.6 107.5,291.6 114.4,292.2C122.2,292.9 129.9,294.4 137.7,295.5C143.7,296.3 149.8,297.9 155.8,297.9" class="b"/><path d="M42.7,293.6C50.7,293.6 58.6,295.4 66.6,295.4" class="r"/><path d="M66.6,295.4C82.5,295.4 98.5,295.2 114.4,295.0" class="r"/><path d="M114.4,295.0C128.2,294.8 142.0,293.6 155.8,293.6" class="r"/><path d="M42.7,300.7C50.7,300.7 58.6,303.4 66.6,303.4" class="r"/><path d="M66.6,303.4C75.7,303.4 84.9,302.1 94.0,301.6C100.8,301.2 107.6,300.7 114.4,300.7" class="r"/><path d="M114.4,300.7C128.2,300.7 142.0,300.7 155.8,300.7" class="r"/><path d="M42.7,301.5C50.7,301.5 58.6,302.2 66.6,302.2" class="r"/><path d="M66.6,302.2C82.5,302.2 98.5,302.1 114.4,302.0" class="r"/><path d="M114.4,302.0C128.2,301.9 142.0,301.5 155.8,301.5" class="r"/><path d="M42.7,301.8C50.7,301.8 58.6,303.2 66.6,303.6C74.5,304.0 82.5,303.9 90.4,304.5C98.4,305.1 106.4,315.2 114.4,315.2C120.8,315.2 127.2,304.9 133.6,303.6C141.0,302.1 148.4,301.0 155.8,301.0" class="b"/><path d="M42.7,309.0C50.7,309.0 58.6,309.0 66.6,309.0" class="r"/><path d="M66.6,309.0C72.7,309.0 78.9,306.3 85.0,305.4C94.8,303.9 104.6,302.0 114.4,302.0" class="r"/><path d="M114.4,302.0C122.0,302.0 129.6,304.0 137.3,305.4C143.4,306.6 149.6,309.9 155.8,309.9" class="r"/><path d="M42.7,313.5C50.7,313.5 58.6,317.0 66.6,317.0C72.7,317.0 78.9,312.9 85.0,312.9C94.8,312.9 104.6,316.9 114.4,317.9C118.4,318.3 122.4,318.8 126.4,318.8C136.2,318.8 146.0,313.5 155.8,313.5" class="b"/><path d="M42.7,329.6C47.8,329.6 52.9,334.5 58.0,335.9C60.8,336.7 63.7,337.7 66.6,337.7C82.5,337.7 98.5,335.9 114.4,335.9C122.0,335.9 129.6,339.5 137.3,339.5C143.4,339.5 149.6,336.8 155.8,336.8" class="b"/><path d="M42.7,337.7C50.7,337.7 58.6,335.2 66.6,334.1C75.7,332.8 84.9,331.5 94.0,330.5C100.8,329.8 107.6,328.7 114.4,328.7C128.2,328.7 142.0,329.6 155.8,329.6" class="b"/><path d="M42.7,362.0C50.7,362.0 58.6,362.3 66.6,362.9" class="r"/><path d="M66.6,362.9C72.7,363.3 78.9,367.8 85.0,370.1C94.8,373.8 104.6,380.9 114.4,380.9" class="r"/><path d="M114.4,380.9C122.0,380.9 129.6,371.5 137.3,368.3C143.4,365.7 149.6,362.0 155.8,362.0" class="r"/><path d="M42.7,369.2C50.7,369.2 58.6,363.8 66.6,363.8" class="r"/><path d="M66.6,363.8C75.7,363.8 84.9,372.2 94.0,375.5C100.8,377.9 107.6,381.8 114.4,381.8" class="r"/><path d="M114.4,381.8C122.0,381.8 129.6,373.5 137.3,371.9C143.4,370.6 149.6,369.2 155.8,369.2" class="r"/><path d="M42.7,366.5C50.7,366.5 58.6,362.9 66.6,362.9C75.7,362.9 84.9,362.9 94.0,362.9C100.8,362.9 107.6,362.6 114.4,362.6C122.0,362.6 129.6,365.1 137.3,365.6C143.4,366.0 149.6,366.5 155.8,366.5" class="b"/><path d="M42.7,372.8C50.7,372.8 58.6,371.9 66.6,371.9C82.5,371.9 98.5,371.9 114.4,371.9C128.2,371.9 142.0,372.8 155.8,372.8" class="b"/><path d="M42.7,374.6C50.7,374.6 58.6,375.0 66.6,375.5C75.7,376.1 84.9,378.7 94.0,380.0C100.8,381.0 107.6,382.7 114.4,382.7C128.2,382.7 142.0,374.6 155.8,374.6" class="b"/><path d="M42.7,388.0C50.7,388.0 58.6,388.0 66.6,388.0C82.5,388.0 98.5,388.0 114.4,388.0C128.2,388.0 142.0,388.0 155.8,388.0" class="b"/><path d="M42.7,437.1C50.7,437.1 58.6,437.1 66.6,437.1" class="r"/><path d="M66.6,437.1C82.5,437.1 98.5,434.5 114.4,434.5" class="r"/><path d="M114.4,434.5C128.2,434.5 142.0,437.1 155.8,437.1" class="r"/><path d="M42.7,438.9C50.7,438.9 58.6,440.1 66.6,442.5" class="r"/><path d="M66.6,442.5C82.5,438.7 98.5,436.2 114.4,436.2" class="r"/><path d="M114.4,436.2C128.2,436.2 142.0,438.9 155.8,438.9" class="r"/><path d="M42.7,447.0C50.7,447.0 58.6,445.2 66.6,441.6" class="r"/><path d="M66.6,441.6C82.5,438.0 98.5,438.0 114.4,438.0" class="r"/><path d="M114.4,438.0C128.2,438.0 142.0,447.0 155.8,447.0" class="r"/><path d="M42.7,463.2C50.7,463.2 58.6,465.8 66.6,465.8" class="r"/><path d="M66.6,465.8C82.5,465.8 98.5,459.2 114.4,459.2" class="r"/><path d="M114.4,459.2C128.2,459.2 142.0,463.2 155.8,463.2" class="r"/><path d="M42.7,466.4C50.7,466.4 58.6,466.7 66.6,466.7" class="r"/><path d="M66.6,466.7C82.5,466.7 98.5,461.0 114.4,461.0" class="r"/><path d="M114.4,461.0C128.2,461.0 142.0,466.4 155.8,466.4" class="r"/><path d="M99.2,485.0C104.3,479.2 109.4,476.3 114.4,476.3" class="r"/><path d="M114.4,476.3C119.5,476.3 124.7,479.2 129.8,485.0" class="r"/><rect x="48.8" y="262.0" width="33.2" height="23.0" fill="#fff"/></g>
<path d="M42.7,271.5h1.6M42.7,285.2h1.6M42.7,298.9h1.6M42.7,312.6h3.5M42.7,326.3h1.6M42.7,340.0h1.6M42.7,353.7h1.6M42.7,367.4h3.5M42.7,381.0h1.6M42.7,394.7h1.6M42.7,408.4h1.6M42.7,422.1h3.5M42.7,435.8h1.6M42.7,449.5h1.6M42.7,463.2h1.6M66.6,476.9v-3M114.4,476.9v-3" stroke="#222" stroke-width="0.9" fill="none"/>
<rect x="42.7" y="257.8" width="113.1" height="219.1" fill="none" stroke="#222" stroke-width="1.5"/>
<text x="42.7" y="489.4" font-size="11" text-anchor="middle">M</text>
<text x="66.6" y="489.4" font-size="11" text-anchor="middle">K</text>
<text x="114.4" y="490.4" font-size="11" text-anchor="middle">Γ</text>
<text x="155.8" y="489.4" font-size="11" text-anchor="middle">M</text>
<text x="52.4" y="283.7" font-size="27.5" stroke="#111" stroke-width="0.35">Fe</text>
<path d="M191.2,257.8V476.9M239.0,257.8V476.9" stroke="#dadada" stroke-width="0.8" fill="none"/>
<g clip-path="url(#c11)"><path d="M167.3,367.6H280.4" stroke="#66dd66" stroke-width="1.8"/><path d="M167.3,258.9C169.6,258.9 171.8,257.8 174.1,257.6C179.8,257.0 185.5,256.5 191.2,256.5" class="r"/><path d="M191.2,256.5C198.3,256.5 205.4,257.9 212.5,257.9C221.4,257.9 230.2,256.5 239.0,256.5" class="r"/><path d="M239.0,256.5C250.5,256.5 262.1,256.9 273.6,257.6C275.9,257.7 278.1,258.9 280.4,258.9" class="r"/><path d="M167.3,274.1C175.3,274.1 183.2,274.1 191.2,274.1C207.1,274.1 223.1,275.6 239.0,275.6C252.8,275.6 266.6,274.1 280.4,274.1" class="b"/><path d="M167.3,324.5C175.3,324.5 183.2,322.9 191.2,322.3" class="r"/><path d="M191.2,322.3C207.1,321.1 223.1,319.4 239.0,319.4" class="r"/><path d="M239.0,319.4C252.8,319.4 266.6,324.5 280.4,324.5" class="r"/><path d="M167.3,366.5C175.3,366.5 183.2,372.8 191.2,372.8" class="r"/><path d="M191.2,372.8C200.3,372.8 209.5,367.2 218.6,365.6C225.4,364.4 232.2,362.9 239.0,362.9" class="r"/><path d="M239.0,362.9C252.8,362.9 266.6,366.2 280.4,366.2" class="r"/><path d="M167.3,374.0C175.3,374.0 183.2,373.3 191.2,373.3C194.4,373.3 197.5,374.6 200.7,374.6C206.7,374.6 212.7,369.9 218.6,368.3C225.4,366.5 232.2,363.8 239.0,363.8C252.8,363.8 266.6,374.0 280.4,374.0" class="b"/><path d="M167.3,386.6C175.3,386.6 183.2,386.4 191.2,386.2C207.1,385.8 223.1,381.8 239.0,381.8C252.8,381.8 266.6,386.6 280.4,386.6" class="b"/><path d="M167.3,388.0C175.3,388.0 183.2,388.4 191.2,388.9C194.4,389.1 197.5,389.8 200.7,389.8C213.4,389.8 226.2,386.6 239.0,386.6C252.8,386.6 266.6,388.0 280.4,388.0" class="b"/><path d="M167.3,396.4C175.3,396.4 183.2,393.3 191.2,393.3" class="r"/><path d="M191.2,393.3C198.3,393.3 205.4,397.3 212.5,397.3C221.4,397.3 230.2,392.6 239.0,392.6" class="r"/><path d="M239.0,392.6C252.8,392.6 266.6,396.4 280.4,396.4" class="r"/><path d="M167.3,400.2C175.3,400.2 183.2,403.0 191.2,403.0C195.1,403.0 198.9,400.2 202.8,400.2C209.2,400.2 215.6,404.5 221.9,404.9C227.6,405.2 233.3,405.5 239.0,405.5C252.8,405.5 266.6,400.2 280.4,400.2" class="b"/><path d="M167.3,403.0C175.3,403.0 183.2,399.2 191.2,399.2" class="r"/><path d="M191.2,399.2C198.3,399.2 205.4,402.3 212.5,403.0C221.4,403.9 230.2,404.9 239.0,404.9" class="r"/><path d="M239.0,404.9C252.8,404.9 266.6,403.0 280.4,403.0" class="r"/><path d="M167.3,409.3C175.3,409.3 183.2,409.0 191.2,408.7" class="r"/><path d="M191.2,408.7C201.4,408.3 211.7,405.9 221.9,405.9C227.6,405.9 233.3,405.9 239.0,405.9" class="r"/><path d="M239.0,405.9C252.8,405.9 266.6,409.3 280.4,409.3" class="r"/><path d="M167.3,409.7C175.3,409.7 183.2,412.5 191.2,412.5C198.3,412.5 205.4,409.7 212.5,409.7C221.4,409.7 230.2,415.0 239.0,415.0C246.0,415.0 253.0,410.2 260.0,410.0C266.8,409.8 273.6,409.7 280.4,409.7" class="b"/><path d="M167.3,421.0C175.3,421.0 183.2,422.6 191.2,425.8" class="r"/><path d="M191.2,425.8C195.1,423.9 198.9,422.0 202.8,422.0C214.9,422.0 226.9,435.8 239.0,435.8" class="r"/><path d="M239.0,435.8C252.8,435.8 266.6,421.0 280.4,421.0" class="r"/><path d="M167.3,441.0C175.3,441.0 183.2,439.3 191.2,435.8C207.1,440.8 223.1,444.2 239.0,444.2C252.8,444.2 266.6,441.0 280.4,441.0" class="b"/><rect x="172.5" y="261.0" width="33.5" height="24.0" fill="#fff"/></g>
<path d="M167.3,271.5h1.6M167.3,285.2h1.6M167.3,298.9h1.6M167.3,312.6h3.5M167.3,326.3h1.6M167.3,340.0h1.6M167.3,353.7h1.6M167.3,367.4h3.5M167.3,381.0h1.6M167.3,394.7h1.6M167.3,408.4h1.6M167.3,422.1h3.5M167.3,435.8h1.6M167.3,449.5h1.6M167.3,463.2h1.6M191.2,476.9v-3M239.0,476.9v-3" stroke="#222" stroke-width="0.9" fill="none"/>
<rect x="167.3" y="257.8" width="113.1" height="219.1" fill="none" stroke="#222" stroke-width="1.5"/>
<text x="167.3" y="489.4" font-size="11" text-anchor="middle">M</text>
<text x="191.2" y="489.4" font-size="11" text-anchor="middle">K</text>
<text x="239.0" y="490.4" font-size="11" text-anchor="middle">Γ</text>
<text x="280.4" y="489.4" font-size="11" text-anchor="middle">M</text>
<text x="174.8" y="284.2" font-size="27.5" stroke="#111" stroke-width="0.35">Co</text>
<path d="M315.8,257.8V476.9M363.6,257.8V476.9" stroke="#dadada" stroke-width="0.8" fill="none"/>
<g clip-path="url(#c12)"><path d="M291.9,367.6H405.0" stroke="#66dd66" stroke-width="1.8"/><path d="M291.9,257.7C299.9,257.7 307.8,257.5 315.8,257.5" class="r"/><path d="M315.8,257.5C321.9,257.5 328.1,258.0 334.2,258.6C338.9,259.0 343.7,260.6 348.4,261.3C353.5,262.0 358.6,263.1 363.6,263.1" class="r"/><path d="M363.6,263.1C371.2,263.1 378.8,261.4 386.5,260.4C392.6,259.6 398.8,257.7 405.0,257.7" class="r"/><path d="M291.9,267.6C299.9,267.6 307.8,269.1 315.8,270.0" class="r"/><path d="M315.8,270.0C323.7,270.9 331.7,272.4 339.6,272.9C347.6,273.4 355.6,273.8 363.6,273.8" class="r"/><path d="M363.6,273.8C371.2,273.8 378.8,272.9 386.5,272.0C392.6,271.3 398.8,267.6 405.0,267.6" class="r"/><path d="M291.9,270.2C299.9,270.2 307.8,270.4 315.8,270.5C321.4,270.6 327.0,270.6 332.6,270.8C336.2,270.9 339.7,275.2 343.2,276.5C350.0,279.0 356.8,281.9 363.6,281.9C370.6,281.9 377.6,278.5 384.6,276.5C391.4,274.6 398.2,270.2 405.0,270.2" class="b"/><path d="M291.9,291.8C299.9,291.8 307.8,290.9 315.8,290.0" class="r"/><path d="M315.8,290.0C323.7,289.1 331.7,284.6 339.6,284.6C347.6,284.6 355.6,289.1 363.6,289.1" class="r"/><path d="M363.6,289.1C371.2,289.1 378.8,285.5 386.5,285.5C392.6,285.5 398.8,292.7 405.0,292.7" class="r"/><path d="M291.9,293.6C299.9,293.6 307.8,294.5 315.8,294.5" class="r"/><path d="M315.8,294.5C323.7,294.5 331.7,292.7 339.6,292.7C347.6,292.7 355.6,294.5 363.6,294.5" class="r"/><path d="M363.6,294.5C377.4,294.5 391.2,293.6 405.0,293.6" class="r"/><path d="M291.9,296.5C299.9,296.5 307.8,296.8 315.8,297.0C331.7,297.5 347.7,299.5 363.6,299.5C377.4,299.5 391.2,296.5 405.0,296.5" class="b"/><path d="M291.9,309.0C299.9,309.0 307.8,305.0 315.8,305.0C324.9,305.0 334.1,305.8 343.2,306.7C350.0,307.4 356.8,311.1 363.6,311.1C371.2,311.1 378.8,309.3 386.5,309.3C392.6,309.3 398.8,311.1 405.0,311.1" class="b"/><path d="M291.9,315.6C299.9,315.6 307.8,315.0 315.8,314.4" class="r"/><path d="M315.8,314.4C331.7,313.3 347.7,307.9 363.6,307.9" class="r"/><path d="M363.6,307.9C371.2,307.9 378.8,310.6 386.5,312.0C392.6,313.2 398.8,315.6 405.0,315.6" class="r"/><path d="M291.9,318.3C299.9,318.3 307.8,318.3 315.8,318.3C324.9,318.3 334.1,316.6 343.2,315.6C350.0,314.8 356.8,312.9 363.6,312.9C371.2,312.9 378.8,314.7 386.5,315.6C392.6,316.4 398.8,318.0 405.0,318.0" class="b"/><path d="M291.9,322.8C299.9,322.8 307.8,328.2 315.8,328.2C331.7,328.2 347.7,315.6 363.6,315.6C371.2,315.6 378.8,321.3 386.5,321.9C392.6,322.4 398.8,322.8 405.0,322.8" class="b"/><path d="M291.9,324.6C299.9,324.6 307.8,327.3 315.8,327.3" class="r"/><path d="M315.8,327.3C324.9,327.3 334.1,326.8 343.2,326.4C350.0,326.1 356.8,325.4 363.6,325.1" class="r"/><path d="M363.6,325.1C377.4,324.5 391.2,323.7 405.0,323.7" class="r"/><path d="M291.9,332.7C299.9,332.7 307.8,331.8 315.8,331.8" class="r"/><path d="M315.8,331.8C331.7,331.8 347.7,334.1 363.6,334.1" class="r"/><path d="M363.6,334.1C377.4,334.1 391.2,332.7 405.0,332.7" class="r"/><path d="M291.9,336.2C299.9,336.2 307.8,338.9 315.8,338.9C324.9,338.9 334.1,334.7 343.2,330.9C350.0,328.1 356.8,317.4 363.6,317.4C371.2,317.4 378.8,323.8 386.5,327.3C392.6,330.1 398.8,336.2 405.0,336.2" class="b"/><path d="M291.9,345.6C299.9,345.6 307.8,345.2 315.8,345.2" class="r"/><path d="M315.8,345.2C331.7,345.2 347.7,352.2 363.6,352.2" class="r"/><path d="M363.6,352.2C377.4,352.2 391.2,345.6 405.0,345.6" class="r"/><path d="M291.9,352.9C299.9,352.9 307.8,352.3 315.8,352.2C321.9,352.1 328.1,352.1 334.2,352.0C344.0,351.8 353.8,346.8 363.6,346.8C377.4,346.8 391.2,352.9 405.0,352.9" class="b"/><path d="M291.9,357.9C299.9,357.9 307.8,357.9 315.8,357.9" class="r"/><path d="M315.8,357.9C331.7,357.9 347.7,359.4 363.6,359.4" class="r"/><path d="M363.6,359.4C377.4,359.4 391.2,357.9 405.0,357.9" class="r"/><path d="M291.9,363.3C299.9,363.3 307.8,363.0 315.8,363.0" class="r"/><path d="M315.8,363.0C331.7,363.0 347.7,363.7 363.6,363.7" class="r"/><path d="M363.6,363.7C377.4,363.7 391.2,363.0 405.0,363.0" class="r"/><path d="M291.9,368.3C299.9,368.3 307.8,367.3 315.8,367.3C324.9,367.3 334.1,369.6 343.2,369.6C350.0,369.6 356.8,369.6 363.6,369.6C377.4,369.6 391.2,368.7 405.0,368.7" class="b"/><path d="M291.9,375.0C299.9,375.0 307.8,373.2 315.8,373.2C324.9,373.2 334.1,376.9 343.2,379.5C350.0,381.4 356.8,386.9 363.6,386.9C377.4,386.9 391.2,375.0 405.0,375.0" class="b"/><path d="M291.9,378.6C299.9,378.6 307.8,378.6 315.8,378.6C324.9,378.6 334.1,383.6 343.2,386.6C350.0,388.8 356.8,394.1 363.6,394.1C377.4,394.1 391.2,378.6 405.0,378.6" class="b"/><path d="M291.9,412.1C299.9,412.1 307.8,412.5 315.8,412.5C326.0,412.5 336.3,409.5 346.5,407.8C352.2,406.9 357.9,404.9 363.6,404.9C377.4,404.9 391.2,412.1 405.0,412.1" class="b"/><path d="M291.9,462.4C299.9,462.4 307.8,461.3 315.8,461.3" class="r"/><path d="M315.8,461.3C331.7,461.3 347.7,462.8 363.6,462.8" class="r"/><path d="M363.6,462.8C377.4,462.8 391.2,462.4 405.0,462.4" class="r"/><path d="M342.8,485.0C349.7,477.6 356.7,474.5 363.6,474.5C369.9,474.5 376.1,478.3 382.4,485.0" class="b"/><rect x="297.8" y="261.0" width="33.2" height="23.4" fill="#fff"/></g>
<path d="M291.9,271.5h1.6M291.9,285.2h1.6M291.9,298.9h1.6M291.9,312.6h3.5M291.9,326.3h1.6M291.9,340.0h1.6M291.9,353.7h1.6M291.9,367.4h3.5M291.9,381.0h1.6M291.9,394.7h1.6M291.9,408.4h1.6M291.9,422.1h3.5M291.9,435.8h1.6M291.9,449.5h1.6M291.9,463.2h1.6M315.8,476.9v-3M363.6,476.9v-3" stroke="#222" stroke-width="0.9" fill="none"/>
<rect x="291.9" y="257.8" width="113.1" height="219.1" fill="none" stroke="#222" stroke-width="1.5"/>
<text x="291.9" y="489.4" font-size="11" text-anchor="middle">M</text>
<text x="315.8" y="489.4" font-size="11" text-anchor="middle">K</text>
<text x="363.6" y="490.4" font-size="11" text-anchor="middle">Γ</text>
<text x="405.0" y="489.4" font-size="11" text-anchor="middle">M</text>
<text x="299.5" y="281.9" font-size="27.5" stroke="#111" stroke-width="0.35">Ni</text>
<path d="M440.4,257.8V476.9M488.2,257.8V476.9" stroke="#dadada" stroke-width="0.8" fill="none"/>
<g clip-path="url(#c13)"><path d="M416.5,367.6H529.6" stroke="#66dd66" stroke-width="1.8"/><path d="M416.5,258.6C424.5,258.6 432.4,259.0 440.4,259.0" class="r"/><path d="M440.4,259.0C456.3,259.0 472.3,258.6 488.2,258.6" class="r"/><path d="M488.2,258.6C502.0,258.6 515.8,258.6 529.6,258.6" class="r"/><path d="M416.5,262.2C424.5,262.2 432.4,262.2 440.4,262.2" class="r"/><path d="M440.4,262.2C456.3,262.2 472.3,262.2 488.2,262.2" class="r"/><path d="M488.2,262.2C502.0,262.2 515.8,263.1 529.6,263.1" class="r"/><path d="M416.5,270.2C424.5,270.2 432.4,271.2 440.4,271.5" class="r"/><path d="M440.4,271.5C445.3,271.7 450.3,272.0 455.2,272.0C461.1,272.0 467.1,269.8 473.0,269.3C478.1,268.9 483.2,268.5 488.2,268.5" class="r"/><path d="M488.2,268.5C495.8,268.5 503.4,269.0 511.1,269.3C517.2,269.6 523.4,270.2 529.6,270.2" class="r"/><path d="M416.5,277.4C424.5,277.4 432.4,277.4 440.4,277.4C445.3,277.4 450.3,277.4 455.2,277.4C461.1,277.4 467.1,286.2 473.0,290.0C478.1,293.2 483.2,298.9 488.2,298.9C495.2,298.9 502.2,292.7 509.2,289.1C516.0,285.6 522.8,277.4 529.6,277.4" class="b"/><path d="M416.5,284.6C424.5,284.6 432.4,283.0 440.4,283.0" class="r"/><path d="M440.4,283.0C443.6,283.0 446.7,283.0 449.9,283.0C457.6,283.0 465.3,289.2 473.0,292.7C478.1,295.0 483.2,299.9 488.2,299.9" class="r"/><path d="M488.2,299.9C495.2,299.9 502.2,293.5 509.2,291.0C516.0,288.6 522.8,284.6 529.6,284.6" class="r"/><path d="M416.5,301.7C424.5,301.7 432.4,299.3 440.4,299.3" class="r"/><path d="M440.4,299.3C456.3,299.3 472.3,303.5 488.2,303.5" class="r"/><path d="M488.2,303.5C502.0,303.5 515.8,301.7 529.6,301.7" class="r"/><path d="M416.5,306.1C424.5,306.1 432.4,306.1 440.4,306.1C456.3,306.1 472.3,304.3 488.2,304.3C502.0,304.3 515.8,306.1 529.6,306.1" class="b"/><path d="M416.5,307.9C424.5,307.9 432.4,307.0 440.4,307.0" class="r"/><path d="M440.4,307.0C449.5,307.0 458.7,309.5 467.8,309.5C474.6,309.5 481.4,306.1 488.2,306.1" class="r"/><path d="M488.2,306.1C495.8,306.1 503.4,308.5 511.1,308.5C517.2,308.5 523.4,307.9 529.6,307.9" class="r"/><path d="M416.5,312.4C424.5,312.4 432.4,311.2 440.4,310.6C449.5,310.0 458.7,309.7 467.8,308.8C474.6,308.1 481.4,304.8 488.2,304.8C495.8,304.8 503.4,310.1 511.1,311.0C517.2,311.7 523.4,312.4 529.6,312.4" class="b"/><path d="M416.5,319.6C424.5,319.6 432.4,318.3 440.4,318.3" class="r"/><path d="M440.4,318.3C456.3,318.3 472.3,320.5 488.2,320.5" class="r"/><path d="M488.2,320.5C502.0,320.5 515.8,319.6 529.6,319.6" class="r"/><path d="M416.5,323.2C424.5,323.2 432.4,325.9 440.4,325.9" class="r"/><path d="M440.4,325.9C456.3,325.9 472.3,325.4 488.2,325.0" class="r"/><path d="M488.2,325.0C502.0,324.6 515.8,323.2 529.6,323.2" class="r"/><path d="M416.5,331.2C424.5,331.2 432.4,327.2 440.4,325.9C449.5,324.4 458.7,323.8 467.8,322.3C474.6,321.2 481.4,317.8 488.2,317.8C495.8,317.8 503.4,323.5 511.1,325.9C517.2,327.8 523.4,331.2 529.6,331.2" class="b"/><path d="M416.5,337.2C424.5,337.2 432.4,346.0 440.4,346.0C449.5,346.0 458.7,340.4 467.8,338.1C474.6,336.4 481.4,333.5 488.2,333.5C502.0,333.5 515.8,336.3 529.6,336.3" class="b"/><path d="M416.5,353.0C424.5,353.0 432.4,353.3 440.4,353.3C449.5,353.3 458.7,348.1 467.8,347.9C474.6,347.7 481.4,347.6 488.2,347.6C495.8,347.6 503.4,348.3 511.1,349.0C517.2,349.6 523.4,352.4 529.6,352.4" class="b"/><path d="M416.5,357.8C424.5,357.8 432.4,364.1 440.4,364.1C443.7,364.1 447.1,363.8 450.4,363.5C455.0,363.0 459.5,358.6 464.0,356.0C467.8,353.9 471.5,350.4 475.3,349.5C479.6,348.5 483.9,347.6 488.2,347.6C495.8,347.6 503.4,350.2 511.1,352.0C517.2,353.5 523.4,357.8 529.6,357.8" class="b"/><path d="M416.5,375.5C424.5,375.5 432.4,373.3 440.4,373.3C456.3,373.3 472.3,393.2 488.2,393.2C502.0,393.2 515.8,375.5 529.6,375.5" class="b"/><path d="M416.5,379.9C424.5,379.9 432.4,374.0 440.4,374.0C456.3,374.0 472.3,396.0 488.2,396.0C502.0,396.0 515.8,381.0 529.6,381.0" class="b"/><path d="M416.5,400.9C424.5,400.9 432.4,404.2 440.4,404.2C456.3,404.2 472.3,403.6 488.2,403.1C502.0,402.7 515.8,400.9 529.6,400.9" class="b"/><path d="M416.5,407.9C424.5,407.9 432.4,409.7 440.4,410.4C456.3,411.8 472.3,413.7 488.2,413.7C502.0,413.7 515.8,407.9 529.6,407.9" class="b"/><path d="M416.5,422.9C424.5,422.9 432.4,417.3 440.4,415.9C442.6,415.5 444.8,415.0 447.0,415.0C454.5,415.0 461.9,418.7 469.3,420.0C475.6,421.1 481.9,422.9 488.2,422.9C502.0,422.9 515.8,422.5 529.6,422.5" class="b"/><path d="M416.5,422.5C424.5,422.5 432.4,422.7 440.4,422.9" class="r"/><path d="M440.4,422.9C456.3,423.3 472.3,426.2 488.2,426.2" class="r"/><path d="M488.2,426.2C502.0,426.2 515.8,422.5 529.6,422.5" class="r"/><path d="M416.5,430.0C424.5,430.0 432.4,428.4 440.4,428.4" class="r"/><path d="M440.4,428.4C456.3,428.4 472.3,433.5 488.2,433.5" class="r"/><path d="M488.2,433.5C502.0,433.5 515.8,430.0 529.6,430.0" class="r"/><path d="M416.5,438.4C424.5,438.4 432.4,440.1 440.4,440.1C456.3,440.1 472.3,425.1 488.2,425.1C502.0,425.1 515.8,438.8 529.6,438.8" class="b"/><path d="M416.5,448.3C424.5,448.3 432.4,448.3 440.4,448.3C456.3,448.3 472.3,447.2 488.2,447.2C502.0,447.2 515.8,448.3 529.6,448.3" class="b"/><path d="M416.5,459.3C424.5,459.3 432.4,460.0 440.4,460.0C456.3,460.0 472.3,457.8 488.2,457.8C502.0,457.8 515.8,459.3 529.6,459.3" class="b"/><path d="M416.5,464.8C424.5,464.8 432.4,467.0 440.4,467.0C456.3,467.0 472.3,463.7 488.2,463.7C502.0,463.7 515.8,464.8 529.6,464.8" class="b"/><path d="M416.5,470.4C424.5,470.4 432.4,471.5 440.4,471.5C456.3,471.5 472.3,469.3 488.2,469.3C502.0,469.3 515.8,471.5 529.6,471.5" class="b"/><rect x="420.5" y="261.0" width="33.3" height="23.0" fill="#fff"/></g>
<path d="M416.5,271.5h1.6M416.5,285.2h1.6M416.5,298.9h1.6M416.5,312.6h3.5M416.5,326.3h1.6M416.5,340.0h1.6M416.5,353.7h1.6M416.5,367.4h3.5M416.5,381.0h1.6M416.5,394.7h1.6M416.5,408.4h1.6M416.5,422.1h3.5M416.5,435.8h1.6M416.5,449.5h1.6M416.5,463.2h1.6M440.4,476.9v-3M488.2,476.9v-3" stroke="#222" stroke-width="0.9" fill="none"/>
<rect x="416.5" y="257.8" width="113.1" height="219.1" fill="none" stroke="#222" stroke-width="1.5"/>
<text x="416.5" y="489.4" font-size="11" text-anchor="middle">M</text>
<text x="440.4" y="489.4" font-size="11" text-anchor="middle">K</text>
<text x="488.2" y="490.4" font-size="11" text-anchor="middle">Γ</text>
<text x="529.6" y="489.4" font-size="11" text-anchor="middle">M</text>
<text x="423.3" y="282.1" font-size="27.5" stroke="#111" stroke-width="0.35">Cu</text>
<path d="M565.0,257.8V476.9M612.8,257.8V476.9" stroke="#dadada" stroke-width="0.8" fill="none"/>
<g clip-path="url(#c14)"><path d="M541.1,367.6H654.2" stroke="#66dd66" stroke-width="1.8"/><path d="M541.1,259.5C549.1,259.5 557.0,260.0 565.0,260.0" class="r"/><path d="M565.0,260.0C571.1,260.0 577.3,258.9 583.4,258.6C593.2,258.1 603.0,257.5 612.8,257.5" class="r"/><path d="M612.8,257.5C626.6,257.5 640.4,258.6 654.2,258.6" class="r"/><path d="M541.1,265.8C549.1,265.8 557.0,265.8 565.0,265.8" class="r"/><path d="M565.0,265.8C580.9,265.8 596.9,264.9 612.8,264.9" class="r"/><path d="M612.8,264.9C626.6,264.9 640.4,265.8 654.2,265.8" class="r"/><path d="M541.1,275.6C549.1,275.6 557.0,277.0 565.0,277.0C569.9,277.0 574.9,273.8 579.8,272.0C585.7,269.8 591.7,266.0 597.6,264.9C602.7,264.0 607.8,263.1 612.8,263.1C618.0,263.1 623.2,266.6 628.4,268.5C633.2,270.2 638.1,272.7 642.9,273.8C646.7,274.6 650.4,275.6 654.2,275.6" class="b"/><path d="M541.1,276.5C549.1,276.5 557.0,277.3 565.0,278.0" class="r"/><path d="M565.0,278.0C569.9,278.4 574.9,279.2 579.8,280.1C585.7,281.2 591.7,283.6 597.6,284.6C602.7,285.4 607.8,286.4 612.8,286.4" class="r"/><path d="M612.8,286.4C618.0,286.4 623.2,284.8 628.4,283.7C637.0,281.9 645.6,276.5 654.2,276.5" class="r"/><path d="M541.1,289.1C549.1,289.1 557.0,290.9 565.0,294.5" class="r"/><path d="M565.0,294.5C571.1,292.9 577.3,291.2 583.4,290.9C593.2,290.4 603.0,290.3 612.8,290.0" class="r"/><path d="M612.8,290.0C626.6,289.6 640.4,289.1 654.2,289.1" class="r"/><path d="M541.1,306.8C549.1,306.8 557.0,301.8 565.0,301.8C574.1,301.8 583.3,301.8 592.4,301.8C599.2,301.8 606.0,302.3 612.8,302.7C626.6,303.5 640.4,306.8 654.2,306.8" class="b"/><path d="M541.1,323.3C549.1,323.3 557.0,318.7 565.0,317.9C574.1,317.0 583.3,316.9 592.4,316.1C599.2,315.5 606.0,313.5 612.8,313.5C626.6,313.5 640.4,323.3 654.2,323.3" class="b"/><path d="M541.1,321.5C549.1,321.5 557.0,318.8 565.0,318.8" class="r"/><path d="M565.0,318.8C574.1,318.8 583.3,320.7 592.4,321.5C599.2,322.1 606.0,323.0 612.8,323.0" class="r"/><path d="M612.8,323.0C626.6,323.0 640.4,321.5 654.2,321.5" class="r"/><path d="M541.1,325.1C550.5,325.1 560.0,340.4 569.4,340.4C577.1,340.4 584.8,338.0 592.4,337.7C599.2,337.5 606.0,337.5 612.8,337.3C626.6,336.8 640.4,325.1 654.2,325.1" class="b"/><path d="M541.1,348.2C549.1,348.2 557.0,347.7 565.0,347.7C572.9,347.7 580.9,351.3 588.8,351.3C596.8,351.3 604.8,349.1 612.8,348.9C626.6,348.5 640.4,348.2 654.2,348.2" class="b"/><path d="M541.1,355.8C549.1,355.8 557.0,351.8 565.0,351.3" class="r"/><path d="M565.0,351.3C574.1,350.8 583.3,350.4 592.4,350.4C599.2,350.4 606.0,350.9 612.8,351.3" class="r"/><path d="M612.8,351.3C626.6,352.1 640.4,355.8 654.2,355.8" class="r"/><path d="M541.1,360.8C549.1,360.8 557.0,361.2 565.0,361.5" class="r"/><path d="M565.0,361.5C580.9,362.1 596.9,364.4 612.8,364.4" class="r"/><path d="M612.8,364.4C626.6,364.4 640.4,360.8 654.2,360.8" class="r"/><path d="M541.1,371.5C549.1,371.5 557.0,372.6 565.0,372.8" class="r"/><path d="M565.0,372.8C580.9,373.1 596.9,373.3 612.8,373.3" class="r"/><path d="M612.8,373.3C626.6,373.3 640.4,371.5 654.2,371.5" class="r"/><path d="M541.1,378.7C549.1,378.7 557.0,378.0 565.0,377.6C571.1,377.3 577.3,376.4 583.4,376.4C593.2,376.4 603.0,379.4 612.8,379.4C626.6,379.4 640.4,378.7 654.2,378.7" class="b"/><path d="M541.1,391.3C549.1,391.3 557.0,391.3 565.0,391.3" class="r"/><path d="M565.0,391.3C580.9,391.3 596.9,392.6 612.8,392.6" class="r"/><path d="M612.8,392.6C626.6,392.6 640.4,391.3 654.2,391.3" class="r"/><path d="M541.1,393.5C549.1,393.5 557.0,394.2 565.0,394.5C580.9,395.0 596.9,395.8 612.8,395.8C626.6,395.8 640.4,393.2 654.2,393.2" class="b"/><path d="M541.1,407.8C549.1,407.8 557.0,407.4 565.0,407.4C574.0,407.4 583.0,410.0 592.0,410.0C598.9,410.0 605.9,409.5 612.8,409.3C626.6,408.8 640.4,407.8 654.2,407.8" class="b"/><path d="M541.1,422.6C549.1,422.6 557.0,422.9 565.0,422.9C580.9,422.9 596.9,422.0 612.8,422.0C626.6,422.0 640.4,422.6 654.2,422.6" class="b"/><path d="M541.1,429.6C549.1,429.6 557.0,430.2 565.0,430.2C575.2,430.2 585.5,427.0 595.7,426.7C601.4,426.5 607.1,426.4 612.8,426.4C626.6,426.4 640.4,429.6 654.2,429.6" class="b"/><path d="M541.1,458.6C549.1,458.6 557.0,458.0 565.0,458.0C580.9,458.0 596.9,464.3 612.8,464.3C626.6,464.3 640.4,458.6 654.2,458.6" class="b"/><path d="M541.1,468.9C549.1,468.9 557.0,468.5 565.0,468.5" class="r"/><path d="M565.0,468.5C580.9,468.5 596.9,469.8 612.8,469.8" class="r"/><path d="M612.8,469.8C626.6,469.8 640.4,468.9 654.2,468.9" class="r"/><rect x="546.5" y="261.0" width="34.5" height="22.5" fill="#fff"/></g>
<path d="M541.1,271.5h1.6M541.1,285.2h1.6M541.1,298.9h1.6M541.1,312.6h3.5M541.1,326.3h1.6M541.1,340.0h1.6M541.1,353.7h1.6M541.1,367.4h3.5M541.1,381.0h1.6M541.1,394.7h1.6M541.1,408.4h1.6M541.1,422.1h3.5M541.1,435.8h1.6M541.1,449.5h1.6M541.1,463.2h1.6M565.0,476.9v-3M612.8,476.9v-3" stroke="#222" stroke-width="0.9" fill="none"/>
<rect x="541.1" y="257.8" width="113.1" height="219.1" fill="none" stroke="#222" stroke-width="1.5"/>
<text x="541.1" y="489.4" font-size="11" text-anchor="middle">M</text>
<text x="565.0" y="489.4" font-size="11" text-anchor="middle">K</text>
<text x="612.8" y="490.4" font-size="11" text-anchor="middle">Γ</text>
<text x="654.2" y="489.4" font-size="11" text-anchor="middle">M</text>
<text x="549.9" y="281.9" font-size="27.5" stroke="#111" stroke-width="0.35">Zn</text>
<text x="38.6" y="261.8" font-size="11.5" text-anchor="end">0.4</text>
<text x="38.6" y="316.6" font-size="11.5" text-anchor="end">0.2</text>
<text x="38.6" y="371.4" font-size="11.5" text-anchor="end">0</text>
<text x="38.6" y="426.1" font-size="11.5" text-anchor="end">-0.2</text>
<text x="38.6" y="480.9" font-size="11.5" text-anchor="end">-0.4</text>
<text x="-0.9" y="13.2" font-size="19.5">(a)</text>
<text x="1.3" y="250.5" font-size="21">(b)</text>
<text transform="translate(15.2,106.8) rotate(-90)" font-size="18.6" text-anchor="middle">Energy (eV)</text>
<text transform="translate(21.2,362.6) rotate(-90)" font-size="18.6" text-anchor="middle">Energy (eV)</text>
</svg></body></html>
